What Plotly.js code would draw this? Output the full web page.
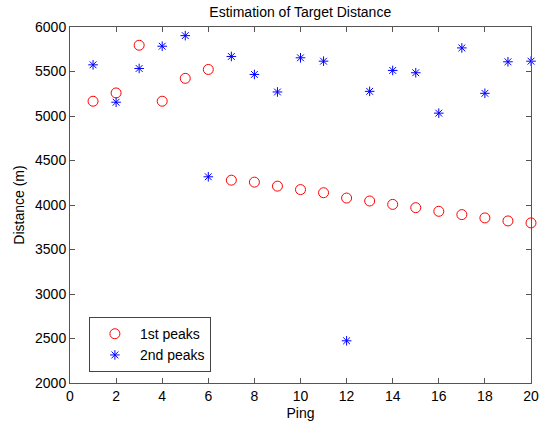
<!DOCTYPE html>
<html><head><meta charset="utf-8">
<script src="https://cdn.plot.ly/plotly-3.0.1.min.js"></script>
<style>html,body{margin:0;padding:0;background:#fff}#c{width:543px;height:424px}</style>
</head><body><div id="c"></div>
<script>
const ping = [1,2,3,4,5,6,7,8,9,10,11,12,13,14,15,16,17,18,19,20];
const firstPeaks = [5166,5259,5795,5166,5423,5523,4279,4257,4212,4173,4138,4078,4045,4007,3970,3929,3892,3855,3821,3799];
const secondPeaks = [5575,5155,5534,5784,5903,4317,5669,5467,5270,5654,5616,2474,5277,5512,5486,5032,5765,5255,5609,5616];
const xTicks = [0,2,4,6,8,10,12,14,16,18,20];
const yTicks = [2000,2500,3000,3500,4000,4500,5000,5500,6000];

const font = {family: '"Liberation Sans", Arial, sans-serif', size: 14, color: '#000'};
const traces = [
  {x: ping, y: firstPeaks, mode: 'markers', type: 'scatter', name: '1st peaks', cliponaxis: false,
   marker: {symbol: 'circle-open', size: 10, color: '#ff0000', line: {width: 1}}},
  {x: ping, y: secondPeaks, mode: 'markers', type: 'scatter', name: '2nd peaks', cliponaxis: false,
   marker: {symbol: 'asterisk-open', size: 8, color: '#0000ff', line: {width: 1, color: '#0000ff'}}}
];
const axisCommon = {showgrid: false, zeroline: false, showline: true, mirror: 'allticks',
  linecolor: '#555', linewidth: 1, ticks: 'inside', ticklen: 5, tickcolor: '#555',
  tickfont: font, ticklabeloverflow: 'allow'};
const layout = {
  width: 543, height: 424,
  margin: {l: 70, r: 12, t: 27, b: 41},
  paper_bgcolor: '#fff', plot_bgcolor: '#fff',
  font: font,
  title: {text: 'Estimation of Target Distance', font: font, x: 0.553, xanchor: 'center',
          y: 0.971, yanchor: 'middle', yref: 'container'},
  xaxis: Object.assign({}, axisCommon, {range: [0, 20], tickvals: xTicks,
          title: {text: 'Ping', font: font, standoff: 5}}),
  yaxis: Object.assign({}, axisCommon, {range: [2000, 6000], tickvals: yTicks,
          title: {text: 'Distance (m)', font: font, standoff: 7}}),
  showlegend: true,
  legend: {x: 0.041, y: 0.185, xanchor: 'left', yanchor: 'top', bgcolor: '#fff',
           bordercolor: '#444', borderwidth: 1, font: font, tracegroupgap: 0, itemwidth: 40}
};
Plotly.newPlot('c', traces, layout, {staticPlot: true, displayModeBar: false});
</script></body></html>
